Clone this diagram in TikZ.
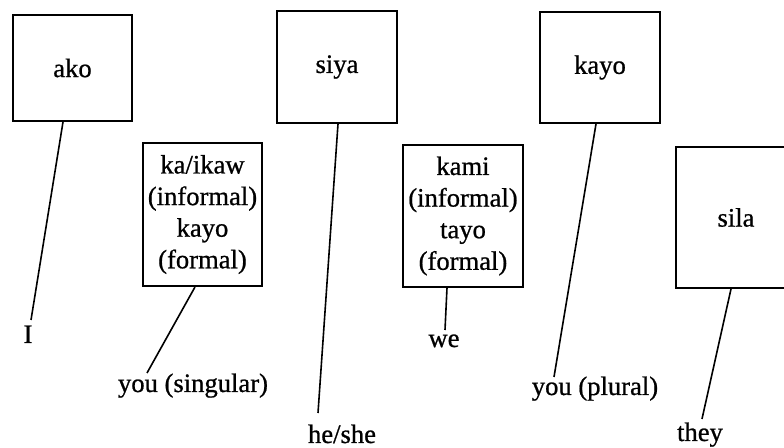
\documentclass[tikz,border=0pt]{standalone}
\usepackage{fontspec}
\setmainfont[FakeBold=0.8]{Liberation Serif}
\begin{document}
\begin{tikzpicture}[x=0.5pt,y=-0.5pt,
  box/.style={draw, line width=1pt, inner sep=0pt, align=center, font=\fontsize{13.3}{15.8}\selectfont},
  lbl/.style={anchor=base, inner sep=0pt, font=\fontsize{13.3}{15.8}\selectfont},
  conn/.style={line width=0.8pt}]
\useasboundingbox (0,0) rectangle (784,448);
% boxes
\node[box, minimum width=59.5pt, minimum height=53pt] (ako) at (72.5,68) {ako};
\node[box, minimum width=59.5pt, minimum height=71.5pt] (kaikaw) at (202.5,214.5) {ka/ikaw\\(informal)\\kayo\\(formal)};
\node[box, minimum width=60pt, minimum height=56pt] (siya) at (337,67) {siya};
\node[box, minimum width=60pt, minimum height=71pt] (kami) at (463,216) {kami\\(informal)\\tayo\\(formal)};
\node[box, minimum width=60pt, minimum height=55.5pt] (kayo) at (600,67.5) {kayo};
\node[box, minimum width=60pt, minimum height=70.5pt] (sila) at (736,217.5) {sila};
% labels
\node[lbl] (lI) at (28,343) {I};
\node[lbl] (lyous) at (193,392) {you (singular)};
\node[lbl] (lhe) at (342,443) {he/she};
\node[lbl] (lwe) at (444,347) {we};
\node[lbl] (lyoup) at (595,395) {you (plural)};
\node[lbl] (lthey) at (700,441) {they};
% connector ends
\coordinate (sA) at (63,0);   \coordinate (eA) at (31,320);
\coordinate (sB) at (195,0);  \coordinate (eB) at (147,373);
\coordinate (sC) at (338,0);  \coordinate (eC) at (318,413);
\coordinate (sD) at (447,0);  \coordinate (eD) at (445,330);
\coordinate (sE) at (596,0);  \coordinate (eE) at (554,377);
\coordinate (sF) at (731,0);  \coordinate (eF) at (702,419);
\draw[conn] (ako.south -| sA) -- (eA);
\draw[conn] (kaikaw.south -| sB) -- (eB);
\draw[conn] (siya.south -| sC) -- (eC);
\draw[conn] (kami.south -| sD) -- (eD);
\draw[conn] (kayo.south -| sE) -- (eE);
\draw[conn] (sila.south -| sF) -- (eF);
\end{tikzpicture}
\end{document}
